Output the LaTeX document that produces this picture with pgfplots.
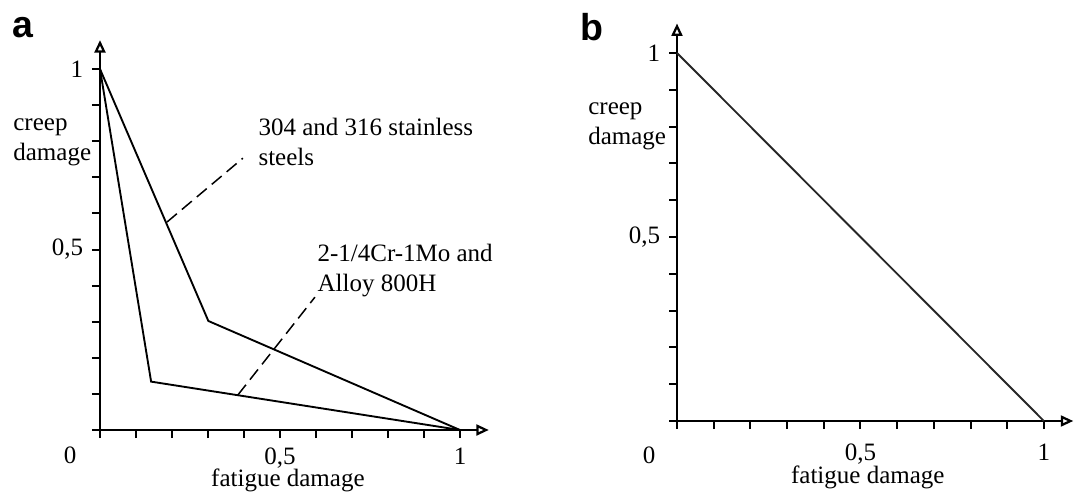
\documentclass[border=0pt]{standalone}
\usepackage{pgfplots}
\pgfplotsset{compat=1.18}
\usetikzlibrary{arrows.meta}
\usepackage{fontspec}
\setmainfont{Liberation Serif}
\newfontfamily\panelfont{Liberation Sans}
\begin{document}
\begin{tikzpicture}
\pgfplotsset{
  damagestyle/.style={
    scale only axis,
    axis lines=left,
    axis line style={line width=0.9pt, -{Triangle[open,length=5pt,width=4.4pt]}},
    xmin=0, xmax=1.08, ymin=0, ymax=1.08,
    xtick={0.5,1}, xticklabels={{0,5},{1}},
    ytick={0.5,1}, yticklabels={{0,5},{1\hspace{3.6pt}}},
    minor xtick={0,0.1,0.2,0.3,0.4,0.6,0.7,0.8,0.9},
    minor ytick={0,0.1,0.2,0.3,0.4,0.6,0.7,0.8,0.9},
    tick align=outside,
    major tick length=3.2pt, minor tick length=3.2pt,
    every tick/.style={black, line width=0.8pt},
    tick label style={font=\fontsize{10}{12}\selectfont},
    clip=false,
    font=\fontsize{10}{12}\selectfont,
  },
}
\path[use as bounding box] (-40pt,-26pt) rectangle (390.8pt,172pt);
% panel a
\begin{axis}[damagestyle, anchor=origin, at={(0pt,0pt)},
  width=155.52pt, height=155.95pt,
  xticklabel style={yshift=-0.5pt}]
\addplot[black, line width=0.75pt] coordinates {(0,1) (0.301,0.302) (1,0)};
\addplot[black, line width=0.75pt] coordinates {(0,1) (0.142,0.134) (1,0)};
\addplot[black, line width=0.6pt, dash pattern=on 5.2pt off 2.6pt] coordinates {(0.186,0.576) (0.397,0.753)};
\addplot[black, line width=0.6pt, dash pattern=on 5.2pt off 2.6pt] coordinates {(0.383,0.097) (0.597,0.368)};
\node[anchor=west, align=left, inner sep=0pt] at (axis cs:-0.242,0.798) {creep\\damage};
\node[anchor=west, align=left, inner sep=0pt] at (axis cs:0.439,0.798) {304 and 316 stainless\\steels};
\node[anchor=west, align=left, inner sep=0pt] at (axis cs:0.603,0.443) {2-1/4Cr-1Mo and\\Alloy 800H};
\node[inner sep=0pt] at (axis cs:-0.083,-0.069) {0};
\node[inner sep=0pt] at (axis cs:0.522,-0.139) {fatigue damage};
\node[inner sep=0pt] at (axis cs:-0.215,1.114) {\panelfont\bfseries\fontsize{15}{17}\selectfont a};
\end{axis}
% panel b
\begin{axis}[damagestyle, anchor=origin, at={(230.8pt,3.6pt)},
  width=158.5pt, height=159pt,
  xticklabel style={yshift=-2.5pt}]
\addplot[black!85, line width=0.75pt] coordinates {(0,1) (1,0)};
\node[anchor=west, align=left, inner sep=0pt] at (axis cs:-0.243,0.80) {creep\\damage};
\node[inner sep=0pt] at (axis cs:-0.076,-0.092) {0};
\node[inner sep=0pt] at (axis cs:0.52,-0.152) {fatigue damage};
\node[inner sep=0pt] at (axis cs:-0.232,1.071) {\panelfont\bfseries\fontsize{15}{17}\selectfont b};
\end{axis}
\end{tikzpicture}
\end{document}
